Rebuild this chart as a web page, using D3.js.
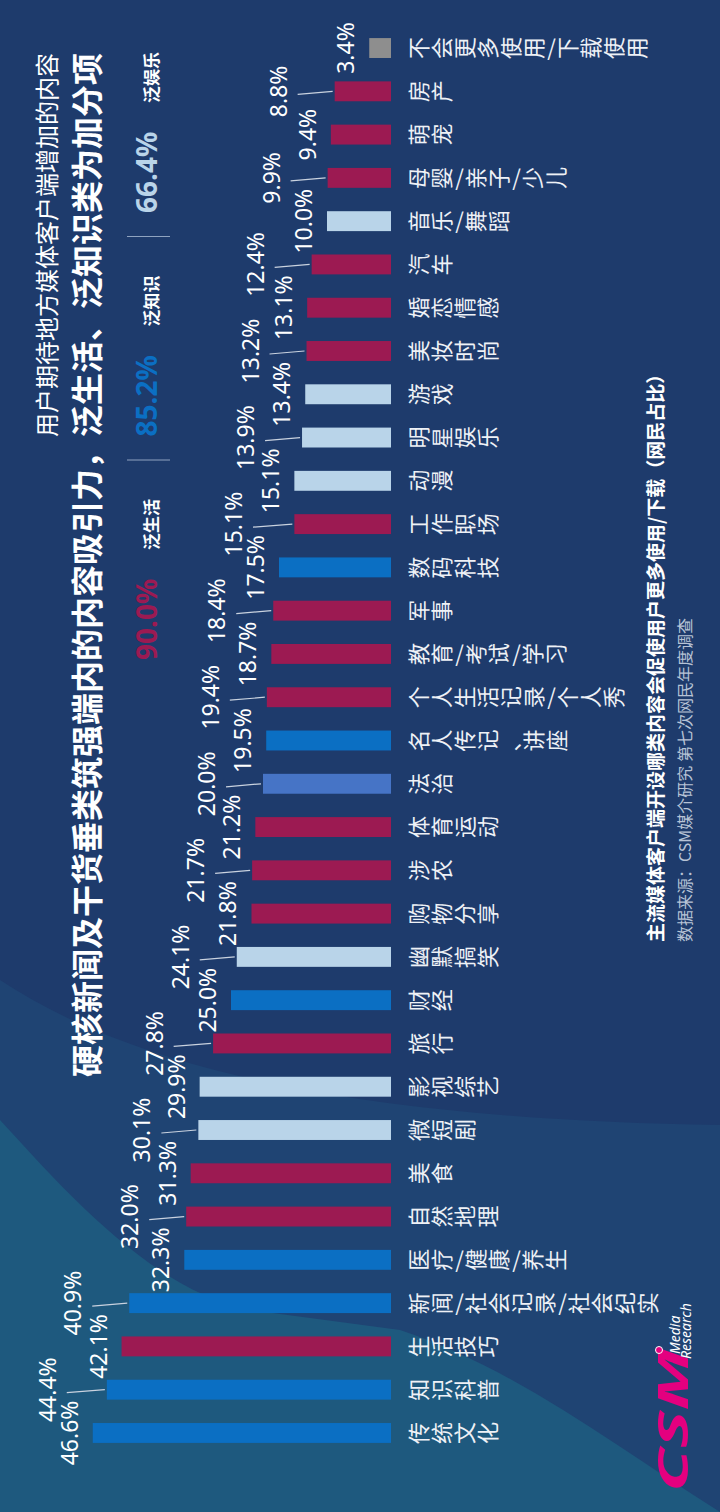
<!DOCTYPE html>
<html>
<head>
<meta charset="utf-8">
<script src="https://cdn.jsdelivr.net/npm/d3@7"></script>
<style>
  html, body { margin: 0; padding: 0; background: #1e3b6c; }
  svg { display: block; }
</style>
</head>
<body>
<svg id="chart" width="720" height="1512"></svg>
<script>
// data (left to right in the unrotated chart)
var categories = ["传统文化", "知识科普", "生活技巧", "新闻/社会记录/社会纪实", "医疗/健康/养生", "自然地理",
    "美食", "微短剧", "影视综艺", "旅行", "财经", "幽默搞笑", "购物分享", "涉农", "体育运动", "法治",
    "名人传记、讲座", "个人生活记录/个人秀", "教育/考试/学习", "军事", "数码科技", "工作职场", "动漫",
    "明星娱乐", "游戏", "美妆时尚", "婚恋情感", "汽车", "音乐/舞蹈", "母婴/亲子/少儿", "萌宠", "房产",
    "不会更多使用/下载使用"];
var values = [46.6, 44.4, 42.1, 40.9, 32.3, 32.0, 31.3, 30.1, 29.9, 27.8, 25.0, 24.1, 21.8, 21.7, 21.2, 20.0,
    19.5, 19.4, 18.7, 18.4, 17.5, 15.1, 15.1, 13.9, 13.4, 13.2, 13.1, 12.4, 10.0, 9.9, 9.4, 8.8, 3.4];
var groups = ["know", "know", "life", "know", "know", "life", "life", "fun", "fun", "life", "know", "fun",
    "life", "life", "life", "law", "know", "life", "life", "life", "know", "life", "fun", "fun", "fun",
    "life", "life", "life", "fun", "life", "life", "life", "none"];
var groupNames = ["life", "know", "fun", "law", "none"];
var groupColors = ["#9c1a52", "#0b6fc3", "#b9d4e9", "#4674c6", "#8e8e8e"];

var statValues = [90.0, 85.2, 66.4];
var statLabels = ["泛生活", "泛知识", "泛娱乐"];
var statGroups = ["life", "know", "fun"];

var subtitle = "用户期待地方媒体客户端增加的内容";
var title = "硬核新闻及干货垂类筑强端内的内容吸引力，泛生活、泛知识类为加分项";
var note = "主流媒体客户端开设哪类内容会促使用户更多使用/下载（网民占比）";
var source = "数据来源：CSM媒介研究 第七次网民年度调查";

var svg = d3.select("#chart")
    .attr("font-family", "'Noto Sans CJK SC', 'Noto Sans', sans-serif")
    .attr("fill", "#fff");

// background swooshes
svg.append("rect").attr("width", 720).attr("height", 1512).attr("fill", "#1e3b6c");
svg.append("path")
    .attr("d", "M0,980 C150,1080 400,1120 720,1125 L720,1512 L0,1512 Z")
    .attr("fill", "#1f4473");
svg.append("path")
    .attr("d", "M0,1120 C60,1185 150,1290 250,1310 L400,1330 C520,1370 620,1450 720,1512 L0,1512 Z")
    .attr("fill", "#1e597e");

// the chart is a landscape one turned a quarter turn left
var g = svg.append("g").attr("transform", "translate(0,1512) rotate(-90)");

var x = d3.scaleBand().domain(categories).range([57.4, 1485.6]).paddingInner(0.54).paddingOuter(0.27);
var y = d3.scaleLinear().domain([0, 50]).range([391, 71]);
var color = d3.scaleOrdinal().domain(groupNames).range(groupColors);

g.selectAll("rect.bar")
    .data(categories)
    .join("rect")
    .attr("class", "bar")
    .attr("x", d => x(d))
    .attr("width", x.bandwidth())
    .attr("y", (d, i) => y(values[i]))
    .attr("height", (d, i) => y(0) - y(values[i]))
    .attr("fill", (d, i) => color(groups[i]));

// value labels, staggered in two rows; lifted ones get a leader line
var nearGap = 15, farGap = 48, labelH = 17;
function nearBase(i) { return y(values[i]) - nearGap; }
categories.forEach(function(c, i) {
    var cx = x(c) + x.bandwidth() / 2;
    var top = y(values[i]);
    var lifted = i % 2 === 1;
    var base = nearBase(i);
    if (lifted) {
        base = top - farGap;
        if (i > 0) base = Math.min(base, nearBase(i - 1) - labelH - 5);
        if (i < categories.length - 1) base = Math.min(base, nearBase(i + 1) - labelH - 5);
        g.append("line")
            .attr("x1", cx).attr("x2", cx - 3)
            .attr("y1", top - 2).attr("y2", base + 11)
            .attr("stroke", "#c9d2df").attr("stroke-width", 1.2);
    }
    g.append("text")
        .attr("x", cx)
        .attr("y", base)
        .attr("text-anchor", "middle")
        .attr("font-family", "'Noto Sans', sans-serif")
        .attr("font-size", 23)
        .text(values[i].toFixed(1) + "%");
});

// category labels, written top to bottom
var labelTop = 408, catSize = 22, catStep = 23, slashStep = 11;
categories.forEach(function(c) {
    var cx = x(c) + x.bandwidth() / 2;
    var v = labelTop;
    var lg = g.append("g").attr("fill", "#eef1f6").attr("font-size", catSize);
    Array.from(c).forEach(function(ch) {
        if (ch === "/") {
            lg.append("text")
                .attr("transform", "translate(" + cx + "," + (v + slashStep / 2) + ") rotate(90)")
                .attr("text-anchor", "middle")
                .attr("dy", "0.35em")
                .text(ch);
            v += slashStep;
        } else {
            lg.append("text")
                .attr("x", cx)
                .attr("y", v + catSize * 0.88)
                .attr("text-anchor", "middle")
                .text(ch);
            v += catStep;
        }
    });
});

// titles
g.append("text")
    .attr("x", 1459).attr("y", 56)
    .attr("text-anchor", "end")
    .attr("font-size", 24)
    .text(subtitle);
g.append("text")
    .attr("x", 1459).attr("y", 99)
    .attr("text-anchor", "end")
    .attr("font-size", 32)
    .attr("font-weight", "bold")
    .text(title);

// summary figures
statValues.forEach(function(s, i) {
    var u0 = 852 + 223.5 * i;
    g.append("text")
        .attr("x", u0).attr("y", 157)
        .attr("font-family", "'Noto Sans', sans-serif")
        .attr("font-size", 28)
        .attr("font-weight", "bold")
        .attr("fill", color(statGroups[i]))
        .text(s.toFixed(1) + "%");
    g.append("text")
        .attr("x", u0 + 110).attr("y", 158)
        .attr("font-size", 17)
        .attr("font-weight", "bold")
        .text(statLabels[i]);
    if (i < statValues.length - 1) {
        g.append("line")
            .attr("x1", u0 + 200).attr("x2", u0 + 200)
            .attr("y1", 127).attr("y2", 170)
            .attr("stroke", "#8fa3c0").attr("stroke-width", 1);
    }
});

// note and source
g.append("text")
    .attr("x", 570).attr("y", 663)
    .attr("font-size", 19)
    .attr("font-weight", "bold")
    .text(note);
g.append("text")
    .attr("x", 570).attr("y", 691)
    .attr("font-size", 16)
    .attr("fill", "#b7c3d6")
    .text(source);

// logo
var logo = g.append("g");
logo.append("text")
    .attr("x", 20).attr("y", 688)
    .attr("font-family", "'Noto Sans', sans-serif")
    .attr("font-size", 42)
    .attr("font-weight", "bold")
    .attr("font-style", "italic")
    .attr("fill", "#e4007f")
    .attr("textLength", 144)
    .attr("lengthAdjust", "spacingAndGlyphs")
    .text("CSM");
logo.append("circle")
    .attr("cx", 162).attr("cy", 659).attr("r", 3.5)
    .attr("fill", "#e4007f").attr("stroke", "#fff").attr("stroke-width", 1);
logo.append("text")
    .attr("x", 158).attr("y", 680)
    .attr("font-family", "'Noto Sans', sans-serif")
    .attr("font-size", 14).attr("font-style", "italic")
    .text("Media");
logo.append("text")
    .attr("x", 153).attr("y", 691)
    .attr("font-family", "'Noto Sans', sans-serif")
    .attr("font-size", 14).attr("font-style", "italic")
    .text("Research");
</script>
</body>
</html>
